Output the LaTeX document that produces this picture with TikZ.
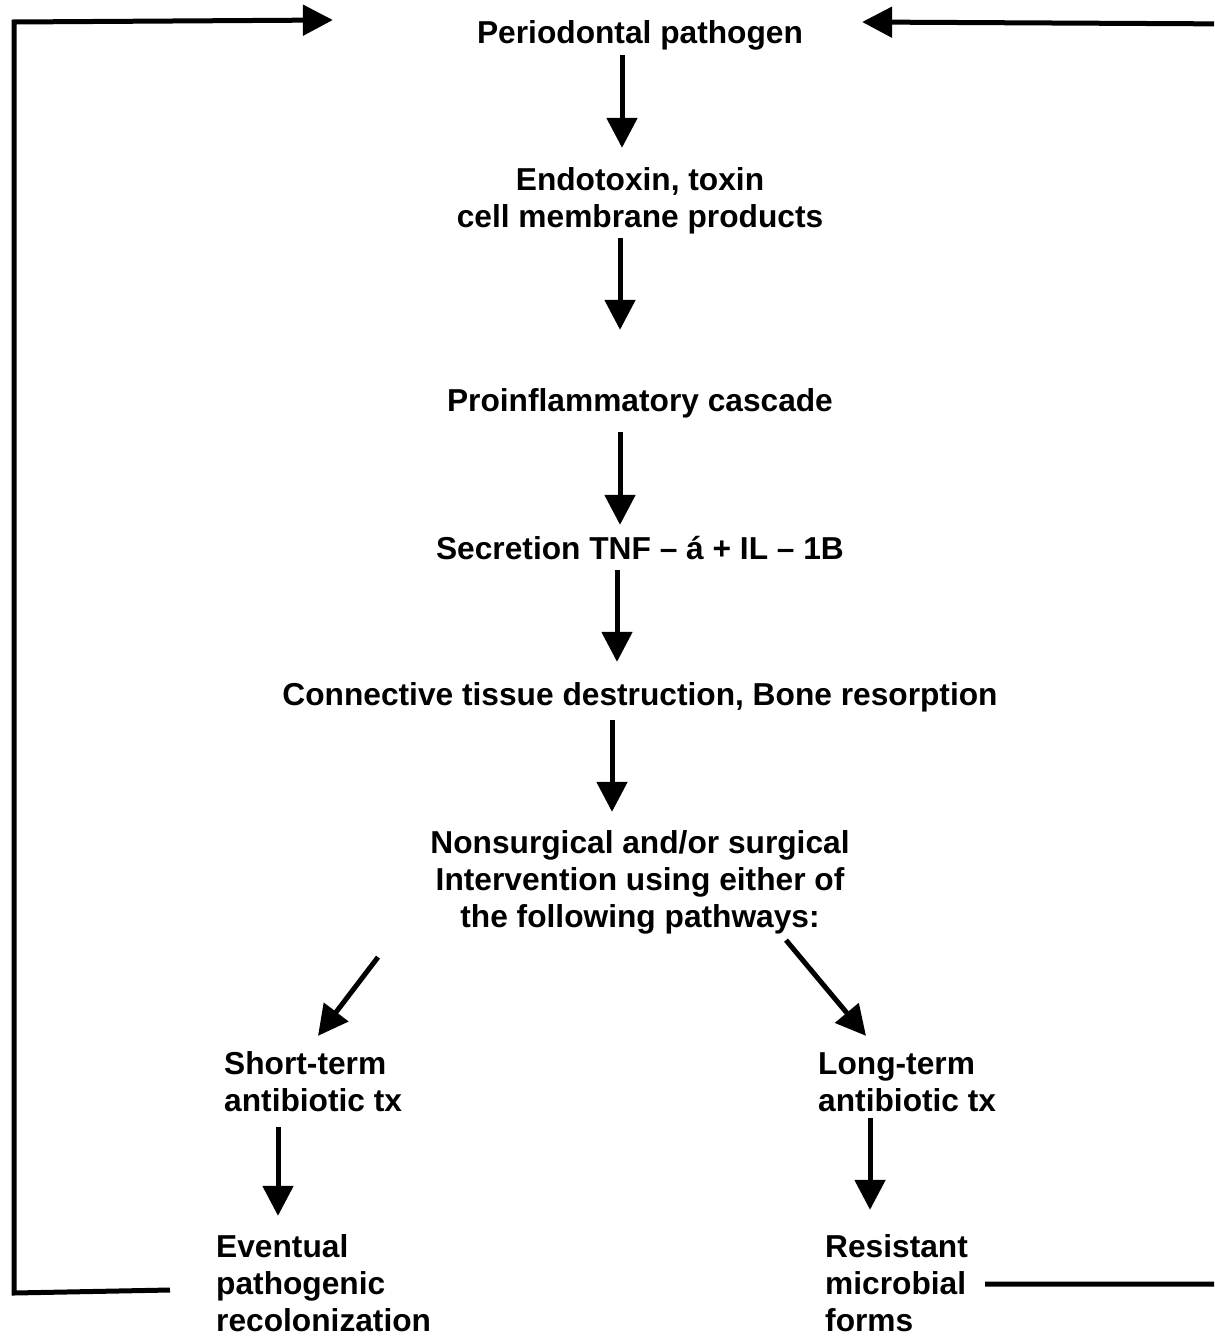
\documentclass[tikz,border=0pt]{standalone}
\usepackage{fontspec}
\setmainfont{Liberation Sans}
\usetikzlibrary{arrows.meta}
\tikzset{
  lbl/.style={inner sep=0pt, font=\fontsize{31.7}{36.8}\selectfont\bfseries, text height=22.7pt, text depth=0pt},
  ctr/.style={lbl, align=center},
  lft/.style={lbl, align=left, anchor=west},
  arr/.style={line width=5pt, -{Triangle[length=30pt,width=30pt]}},
  ln/.style={line width=5pt}
}
\begin{document}
\begin{tikzpicture}[x=1pt,y=-1pt]
\useasboundingbox (0,0) rectangle (1214,1337);
\clip (0,0) rectangle (1214,1337);
% multi-line nodes are placed by their last line
\node[ctr] (n1) at (640,32) {Periodontal pathogen};
\node[ctr] (n2) at (640,216) {Endotoxin, toxin\\cell membrane products};
\node[ctr] (n3) at (640,400) {Proinflammatory cascade};
\node[ctr] (n4) at (640,548) {Secretion TNF – á + IL – 1B};
\node[ctr] (n5) at (640,694) {Connective tissue destruction, Bone resorption};
\node[ctr] (n6) at (640,916) {Nonsurgical and/or surgical\\Intervention using either of\\the following pathways:};
\node[lft] (n7) at (224,1100) {Short-term\\antibiotic tx};
\node[lft] (n8) at (818,1100) {Long-term\\antibiotic tx};
\node[lft] (n9) at (216,1320) {Eventual\\pathogenic\\recolonization};
\node[lft] (n10) at (825,1320) {Resistant\\microbial\\forms};

\draw[arr] ([xshift=-18pt,yshift=-11.6pt]n1.south) -- ([xshift=-18pt,yshift=56.6pt]n2.north);
\draw[arr] ([xshift=-20pt,yshift=-10.6pt]n2.south) -- ([xshift=-20pt,yshift=58.6pt]n3.north);
\draw[arr] ([xshift=-20pt,yshift=-20.6pt]n3.south) -- ([xshift=-20pt,yshift=11.6pt]n4.north);
\draw[arr] ([xshift=-23pt,yshift=-10.6pt]n4.south) -- ([xshift=-23pt,yshift=20.6pt]n5.north);
\draw[arr] ([xshift=-28pt,yshift=-14.6pt]n5.south) -- ([xshift=-28pt,yshift=92.6pt]n6.north);
\draw[arr] ([xshift=-262pt,yshift=-29.6pt]n6.south) -- ([xshift=94pt,yshift=52.6pt]n7.north west);
\draw[arr] ([xshift=146pt,yshift=-12.6pt]n6.south) -- ([xshift=48pt,yshift=52.6pt]n8.north west);
\draw[arr] ([xshift=54pt,yshift=-15.6pt]n7.south west) -- ([xshift=62pt,yshift=92.6pt]n9.north west);
\draw[arr] ([xshift=52pt,yshift=-6.6pt]n8.south west) -- ([xshift=45pt,yshift=98.6pt]n10.north west);

\coordinate (lb) at (14,1293);
\coordinate (lt) at (14,22);
\coordinate (rb) at (1240,1284);
\coordinate (rt) at (1240,24);
\draw[arr] ([xshift=-46pt,yshift=30pt]n9.west) -- (lb) -- (lt) -- ([xshift=-144pt,yshift=12pt]n1.west);
\draw[arr] ([xshift=160pt,yshift=36pt]n10.west) -- (rb) -- (rt) -- ([xshift=59pt,yshift=10pt]n1.east);
\end{tikzpicture}
\end{document}
